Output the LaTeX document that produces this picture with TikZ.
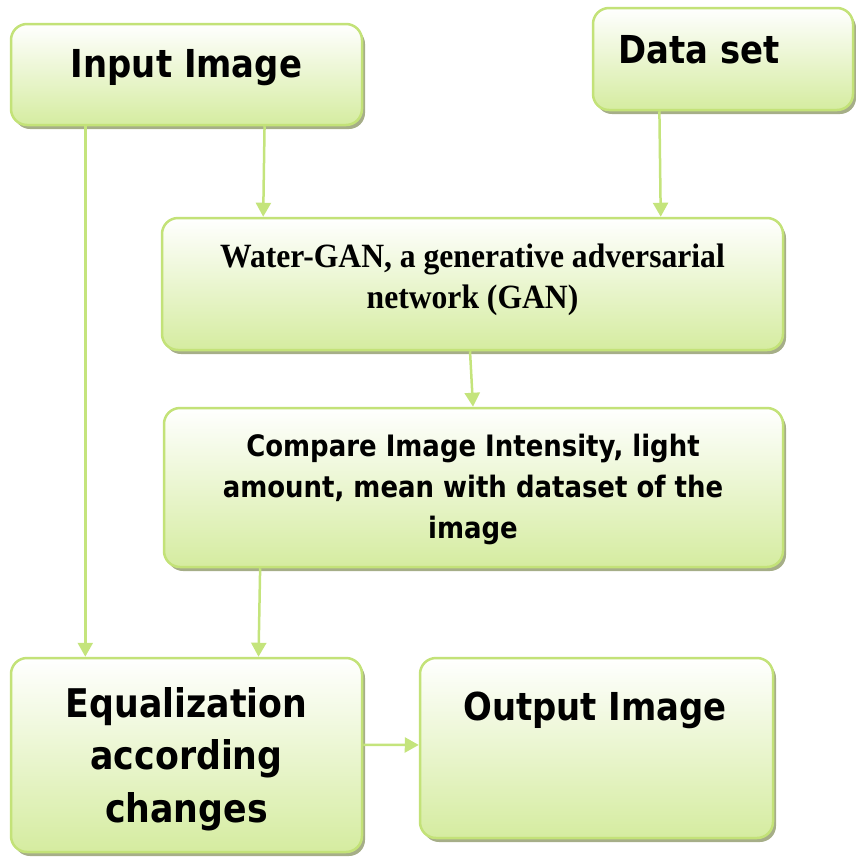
\documentclass[tikz,border=0pt]{standalone}
\usepackage{fontspec}
\usetikzlibrary{arrows.meta,shadows,calc}
\newfontfamily\tahb[FakeStretch=0.88]{DejaVu Sans Bold}
\newfontfamily\timesf[FakeStretch=0.93]{Liberation Serif}
\definecolor{gborder}{RGB}{195,226,120}
\definecolor{gbot}{RGB}{213,236,160}
\definecolor{gshadow}{RGB}{166,174,136}
\definecolor{garrow}{RGB}{196,228,124}
\tikzset{
  box/.style={draw=gborder, line width=2.5pt, rounded corners=16pt,
    top color=white, bottom color=gbot, inner sep=0pt,
    drop shadow={shadow xshift=3pt, shadow yshift=-4pt, fill=gshadow, opacity=1}},
  arr/.style={draw=garrow, line width=2.5pt, -{Triangle[width=15pt,length=14pt]}},
  big/.style={anchor=base, inner sep=0pt, font=\tahb\fontsize{38.5}{46}\selectfont},
  bigger/.style={anchor=base, inner sep=0pt, font=\tahb\fontsize{39.5}{46}\selectfont},
  mid/.style={anchor=base, inner sep=0pt, font=\tahb\fontsize{29.5}{36}\selectfont},
  ser/.style={anchor=base, inner sep=0pt, font=\timesf\bfseries\fontsize{34}{40}\selectfont},
}
\begin{document}
\begin{tikzpicture}[x=1pt,y=-1pt]
\useasboundingbox (0,0) rectangle (855,857);
% boxes
\node[box, minimum width=351pt, minimum height=101pt] (inp) at (186.5,74.5) {};
\node[box, minimum width=260pt, minimum height=102pt] (ds) at (723,59) {};
\node[box, minimum width=621pt, minimum height=132pt] (gan) at (472.5,284) {};
\node[box, minimum width=619pt, minimum height=159pt] (cmp) at (473.5,487.5) {};
\node[box, minimum width=351pt, minimum height=194pt] (eq) at (186.5,755) {};
\node[box, minimum width=353pt, minimum height=180pt] (out) at (596.5,748) {};
% texts
\node[big] (inpt) at (186.5,77) {Input Image};
\node[big] (dst) at (699,63) {Data set};
\node[ser] (gant1) at (472.5,267) {Water-GAN, a generative adversarial};
\node[ser] (gant2) at (472.5,308) {network (GAN)};
\node[mid] (cmpt1) at (473,456) {Compare Image Intensity, light};
\node[mid] (cmpt2) at (473,497) {amount, mean with dataset of the};
\node[mid] (cmpt3) at (473,538) {image};
\node[bigger] (eqt1) at (186.5,717) {Equalization};
\node[bigger] (eqt2) at (186.5,769) {according};
\node[bigger] (eqt3) at (186.5,822) {changes};
\node[big] (outt) at (595,720) {Output Image};
% connectors
\draw[arr] ($(inp.south west)!0.2137!(inp.south east)$) -- ($(eq.north west)!0.2137!(eq.north east)$);
\draw[arr] ($(inp.south west)!0.7208!(inp.south east)$) -- ($(gan.north west)!0.1643!(gan.north east)$);
\draw[arr] ($(ds.south west)!0.2577!(ds.south east)$) -- ($(gan.north west)!0.8019!(gan.north east)$);
\draw[arr] ($(gan.south west)!0.496!(gan.south east)$) -- ($(cmp.north west)!0.4992!(cmp.north east)$);
\draw[arr] ($(cmp.south west)!0.1567!(cmp.south east)$) -- ($(eq.north west)!0.7037!(eq.north east)$);
\draw[arr] ($(eq.north east)!0.4485!(eq.south east)$) -- ($(out.north west)!0.4833!(out.south west)$);
\end{tikzpicture}
\end{document}
